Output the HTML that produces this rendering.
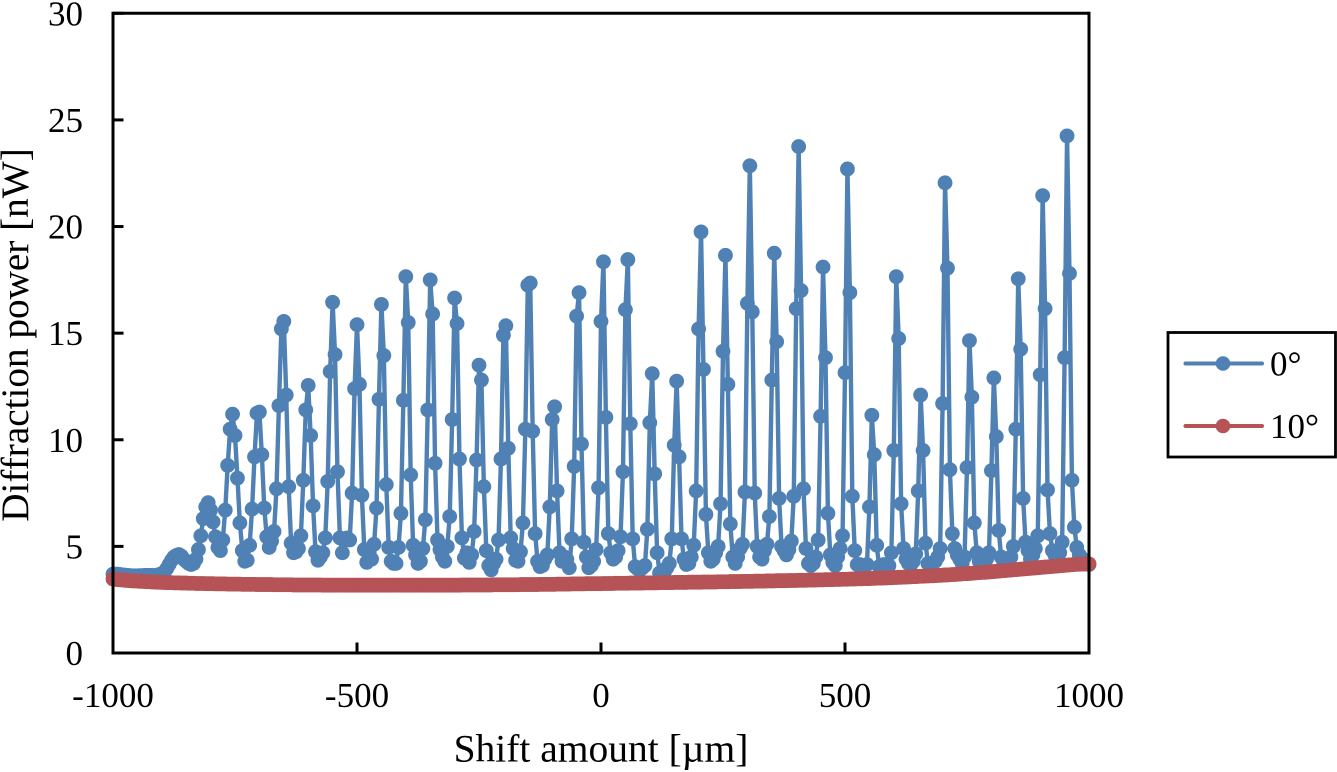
<!DOCTYPE html>
<html lang="en">
<head>
<meta charset="utf-8">
<title>Diffraction power vs shift amount</title>
<style>
html,body{margin:0;padding:0;background:#fff;}
svg{display:block;}
text{font-family:"Liberation Serif",serif;fill:#000;}
</style>
</head>
<body>
<svg id="chart" xmlns="http://www.w3.org/2000/svg" width="1337" height="772" viewBox="0 0 1337 772">
  <g id="marks"></g>
  <g id="axes"></g>
  <text x="601" y="761.5" font-size="39.5" text-anchor="middle">Shift amount [µm]</text>
  <text transform="translate(28,335) rotate(-90)" font-size="39.2" text-anchor="middle">Diffraction power [nW]</text>
  <g>
    <rect x="1168" y="332.5" width="167.5" height="124.5" fill="#fff" stroke="#000" stroke-width="2.8"></rect>
    <g>
      <line x1="1185.5" x2="1262" y1="363.5" y2="363.5" stroke="#4f81b5" stroke-width="4" stroke-linecap="round"></line>
      <circle cx="1223" cy="363.5" r="7.3" fill="#4f81b5"></circle>
      <text x="1270" y="375.5" font-size="35">0°</text>
    </g>
    <g>
      <line x1="1185.5" x2="1262" y1="426" y2="426" stroke="#b55357" stroke-width="4" stroke-linecap="round"></line>
      <circle cx="1223" cy="426" r="7.3" fill="#b55357"></circle>
      <text x="1270" y="438" font-size="35">10°</text>
    </g>
  </g>
</svg>
<script>
const shiftStart = -1000;
const shiftStep = 5;
const xTickLabels = [-1000, -500, 0, 500, 1000];
const yTickLabels = [0, 5, 10, 15, 20, 25, 30];
const power0deg = [
3.7,3.7,3.7,3.68,3.66,3.65,
3.64,3.63,3.62,3.62,3.62,3.63,3.63,3.64,3.64,3.64,
3.64,3.63,3.65,3.68,3.72,3.8,3.95,4.15,4.35,4.5,
4.58,4.62,4.55,4.4,4.3,4.2,4.15,4.2,4.4,4.85,
5.5,6.3,6.85,7.05,6.7,6.15,5.45,4.95,4.8,5.3,
6.7,8.8,10.5,11.2,10.2,8.2,6.1,4.8,4.3,4.35,
5.05,6.75,9.2,11.25,11.3,9.3,6.8,5.45,4.95,5.25,
5.7,7.7,11.6,15.2,15.55,12.1,7.8,5.15,4.7,4.75,
4.9,5.5,8.1,11.4,12.55,10.2,6.9,4.75,4.35,4.5,
4.7,5.4,8.05,13.2,16.45,14.0,8.5,5.4,4.7,5.3,
5.4,5.3,7.5,12.4,15.4,12.6,7.4,4.85,4.25,4.7,
4.4,5.1,6.8,11.9,16.35,13.95,7.9,4.95,4.3,4.2,
4.2,4.95,6.55,11.85,17.65,15.5,8.35,5.05,4.6,4.2,
4.3,4.9,6.25,11.4,17.5,15.9,8.9,5.3,4.85,4.5,
4.3,5.0,6.4,10.95,16.65,15.45,9.1,5.4,4.45,4.7,
4.25,4.6,5.7,9.05,13.5,12.8,7.8,4.8,4.1,3.9,
4.2,4.4,5.3,9.1,14.9,15.35,9.6,5.4,4.9,4.35,
4.3,4.75,6.1,10.5,17.25,17.35,10.4,5.6,4.3,4.05,
4.1,4.4,4.6,6.85,10.95,11.55,7.6,4.7,4.3,4.5,
4.4,4.0,5.35,8.75,15.8,16.9,9.8,5.2,4.5,4.0,
4.1,4.3,4.85,7.75,15.55,18.35,11.05,5.6,4.7,4.4,
4.5,4.8,5.45,8.5,16.1,18.45,10.75,5.35,4.05,3.95,
3.9,4.0,4.1,5.8,10.8,13.1,8.4,4.7,3.75,3.7,
3.8,4.0,4.2,5.35,9.75,12.75,9.2,5.35,4.4,4.15,
4.2,4.5,5.05,7.6,15.2,19.75,13.3,6.5,4.7,4.3,
4.4,4.7,5.0,7.0,14.15,18.65,12.6,6.05,4.5,4.2,
4.5,4.9,5.1,7.55,16.4,22.85,16.0,7.5,5.0,4.5,
4.4,4.8,5.1,6.4,12.8,18.75,14.6,7.25,5.0,4.8,
4.6,4.85,5.25,7.35,16.15,23.75,17.0,7.7,4.9,4.2,
4.1,4.2,4.5,5.3,11.1,18.1,13.85,6.55,4.6,4.25,
4.1,4.5,4.9,5.5,13.15,22.7,16.9,7.35,4.8,4.15,
4.15,4.1,4.1,4.15,6.85,11.15,9.3,5.05,4.05,4.1,
4.15,4.1,4.1,4.7,9.5,17.65,14.75,7.0,4.9,4.4,
4.2,4.15,4.3,4.65,7.6,12.1,9.5,5.15,4.2,4.1,
4.2,4.3,4.5,4.9,11.7,22.05,18.05,8.6,5.6,4.9,
4.6,4.4,4.2,4.5,8.7,14.65,12.0,6.1,4.7,4.3,
4.1,4.2,4.4,4.7,8.55,12.9,10.15,5.75,4.5,4.3,
4.3,4.4,4.5,5.0,10.5,17.55,14.25,7.25,5.2,4.8,
4.4,4.6,4.9,5.5,13.05,21.45,16.15,7.65,5.6,4.8,
4.6,4.4,4.7,5.2,13.85,24.25,17.8,8.1,5.9,4.95,
4.6,4.45,4.3,4.2,4.15
];
const power10deg = [
3.47,3.45,3.44,3.43,3.42,3.41,
3.4,3.39,3.38,3.38,3.37,3.36,3.36,3.35,3.34,3.34,
3.33,3.33,3.32,3.32,3.31,3.31,3.3,3.3,3.3,3.29,
3.29,3.29,3.28,3.28,3.28,3.27,3.27,3.27,3.26,3.26,
3.26,3.26,3.25,3.25,3.25,3.25,3.24,3.24,3.24,3.24,
3.24,3.23,3.23,3.23,3.23,3.23,3.23,3.22,3.22,3.22,
3.22,3.22,3.22,3.21,3.21,3.21,3.21,3.21,3.21,3.21,
3.2,3.2,3.2,3.2,3.2,3.2,3.2,3.2,3.19,3.19,
3.19,3.19,3.19,3.19,3.19,3.19,3.19,3.19,3.19,3.19,
3.18,3.18,3.18,3.18,3.18,3.18,3.18,3.18,3.18,3.18,
3.18,3.18,3.18,3.18,3.18,3.18,3.18,3.18,3.18,3.18,
3.18,3.18,3.18,3.18,3.18,3.18,3.18,3.18,3.18,3.18,
3.18,3.18,3.18,3.18,3.18,3.18,3.18,3.18,3.18,3.18,
3.18,3.18,3.18,3.18,3.18,3.18,3.18,3.18,3.18,3.18,
3.18,3.18,3.18,3.18,3.18,3.18,3.18,3.19,3.19,3.19,
3.19,3.19,3.19,3.19,3.19,3.19,3.19,3.19,3.19,3.19,
3.2,3.2,3.2,3.2,3.2,3.2,3.2,3.2,3.2,3.2,
3.2,3.21,3.21,3.21,3.21,3.21,3.21,3.21,3.21,3.22,
3.22,3.22,3.22,3.22,3.22,3.22,3.23,3.23,3.23,3.23,
3.23,3.23,3.24,3.24,3.24,3.24,3.24,3.24,3.25,3.25,
3.25,3.25,3.25,3.25,3.25,3.26,3.26,3.26,3.26,3.26,
3.27,3.27,3.27,3.27,3.27,3.27,3.28,3.28,3.28,3.28,
3.28,3.28,3.29,3.29,3.29,3.29,3.29,3.29,3.3,3.3,
3.3,3.3,3.3,3.3,3.31,3.31,3.31,3.31,3.31,3.31,
3.32,3.32,3.32,3.32,3.32,3.32,3.33,3.33,3.33,3.33,
3.33,3.33,3.34,3.34,3.34,3.34,3.34,3.35,3.35,3.35,
3.35,3.35,3.36,3.36,3.36,3.36,3.36,3.37,3.37,3.37,
3.37,3.37,3.38,3.38,3.38,3.38,3.39,3.39,3.39,3.39,
3.39,3.4,3.4,3.4,3.4,3.41,3.41,3.41,3.41,3.42,
3.42,3.42,3.42,3.43,3.43,3.43,3.44,3.44,3.44,3.44,
3.45,3.45,3.45,3.46,3.46,3.46,3.47,3.47,3.47,3.48,
3.48,3.48,3.49,3.49,3.49,3.5,3.5,3.51,3.51,3.51,
3.52,3.52,3.53,3.53,3.54,3.54,3.55,3.55,3.56,3.56,
3.57,3.57,3.58,3.58,3.59,3.6,3.6,3.61,3.61,3.62,
3.62,3.63,3.64,3.64,3.65,3.66,3.66,3.67,3.68,3.68,
3.69,3.7,3.71,3.72,3.72,3.73,3.74,3.75,3.76,3.77,
3.78,3.78,3.79,3.8,3.81,3.82,3.83,3.84,3.85,3.86,
3.87,3.88,3.89,3.9,3.91,3.92,3.93,3.94,3.95,3.96,
3.97,3.98,3.99,4.0,4.01,4.02,4.03,4.04,4.05,4.06,
4.07,4.08,4.09,4.1,4.11,4.12,4.13,4.14,4.15,4.16,
4.16,4.17,4.17,4.18,4.18
];

const NS = 'http://www.w3.org/2000/svg';
const plotLeft = 113, plotRight = 1089, plotTop = 13.3, plotBottom = 653;
const xMin = -1000, xMax = 1000, yMin = 0, yMax = 30;
function xScale(v) { return plotLeft + (v - xMin) / (xMax - xMin) * (plotRight - plotLeft); }
function yScale(v) { return plotBottom - (v - yMin) / (yMax - yMin) * (plotBottom - plotTop); }
function make(tag, attrs, parent) {
  const el = document.createElementNS(NS, tag);
  for (const k in attrs) el.setAttribute(k, attrs[k]);
  parent.appendChild(el);
  return el;
}
const marks = document.getElementById('marks');
const axes = document.getElementById('axes');

function drawSeries(values, color, lineName, markerName) {
  const pts = values.map(function (v, i) {
    return xScale(shiftStart + i * shiftStep).toFixed(2) + ',' + yScale(v).toFixed(2);
  }).join(' ');
  const line = make('polyline', { points: pts, fill: 'none', stroke: color, 'stroke-width': 4.4, 'stroke-linejoin': 'round', 'stroke-linecap': 'round' }, marks);
  
  
  values.forEach(function (v, i) {
    const c = make('circle', { cx: xScale(shiftStart + i * shiftStep).toFixed(2), cy: yScale(v).toFixed(2), r: 7.4, fill: color }, marks);
    
    
  });
}
drawSeries(power0deg, '#4f81b5', 'series-line-0-deg', 'point-0-deg');
drawSeries(power10deg, '#b55357', 'series-line-10-deg', 'point-10-deg');

const frameLeft = make('line', { x1: plotLeft, x2: plotLeft, y1: plotTop - 1.5, y2: plotBottom + 1.5, stroke: '#000', 'stroke-width': 3 }, axes);


const frameRight = make('line', { x1: plotRight, x2: plotRight, y1: plotTop - 1.5, y2: plotBottom + 1.5, stroke: '#000', 'stroke-width': 3 }, axes);


const frameTop = make('line', { x1: plotLeft, x2: plotRight, y1: plotTop, y2: plotTop, stroke: '#000', 'stroke-width': 3 }, axes);


const frameBottom = make('line', { x1: plotLeft, x2: plotRight, y1: plotBottom, y2: plotBottom, stroke: '#000', 'stroke-width': 3 }, axes);



xTickLabels.forEach(function (t) {
  const tick = make('line', { x1: xScale(t), x2: xScale(t), y1: plotBottom, y2: plotBottom - 10.5, stroke: '#000', 'stroke-width': 3 }, axes);
  
  
  const label = make('text', { x: xScale(t), y: 707, 'font-size': 35, 'text-anchor': 'middle' }, axes);
  label.textContent = String(t);
  
  
});
yTickLabels.forEach(function (t) {
  const tick = make('line', { x1: plotLeft, x2: plotLeft + 10.5, y1: yScale(t), y2: yScale(t), stroke: '#000', 'stroke-width': 3 }, axes);
  
  
  const label = make('text', { x: 83, y: yScale(t) + 12, 'font-size': 35, 'text-anchor': 'end' }, axes);
  label.textContent = String(t);
  
  
});
</script>
</body>
</html>
